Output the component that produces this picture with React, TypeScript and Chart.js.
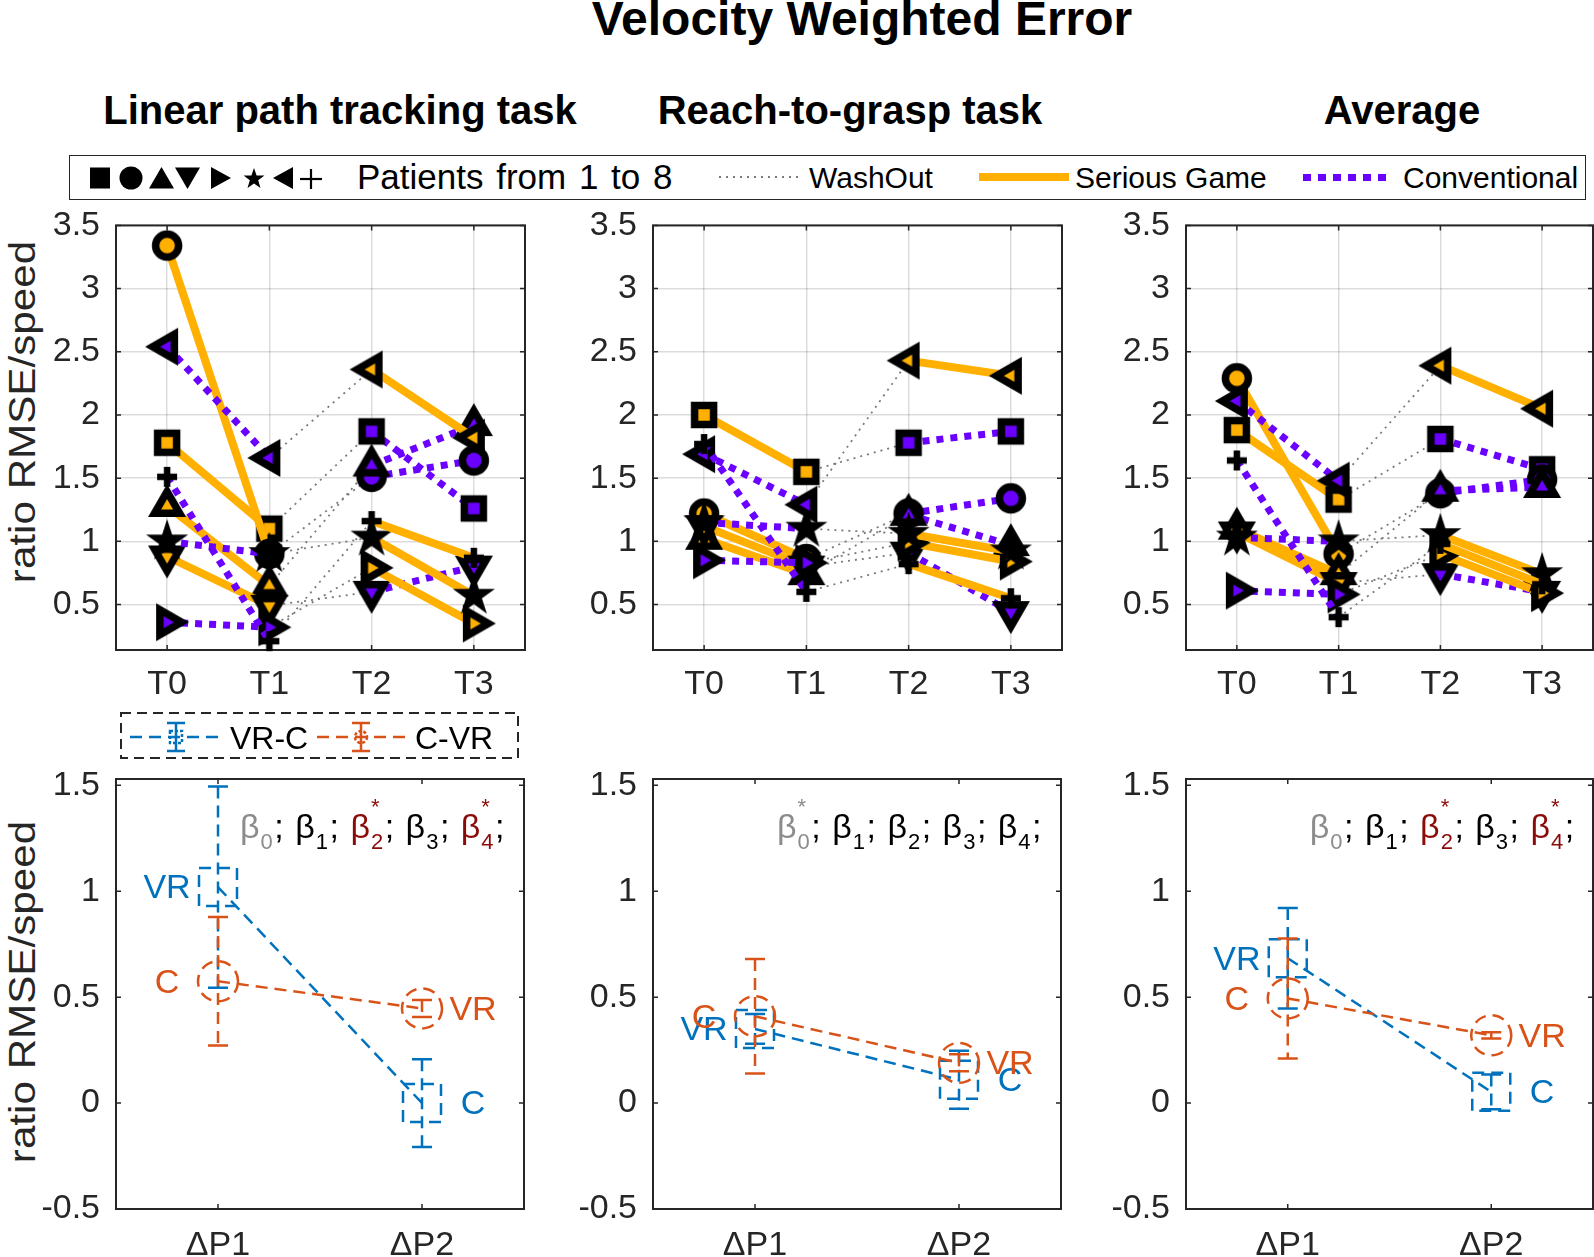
import React, { useEffect, useRef } from 'react';
import { Chart, registerables } from 'chart.js';

Chart.register(...registerables);

const FONT = '"Liberation Sans", Arial, Helvetica, sans-serif';

// ---------------- data: top row (ratio RMSE/speed per patient at T0..T3) ----------------
const timeLabels = ['T0', 'T1', 'T2', 'T3'];
const timePositions = [0, 1, 2, 3];
const topYTicks = [0.5, 1, 1.5, 2, 2.5, 3, 3.5];
const patientShapes = ['square', 'circle', 'triUp', 'triDown', 'triRight', 'star', 'triLeft', 'plus'];
const firstPeriod = ['SG', 'SG', 'SG', 'SG', 'CV', 'CV', 'CV', 'CV'];
const secondPeriod = ['CV', 'CV', 'CV', 'CV', 'SG', 'SG', 'SG', 'SG'];

const linearTask = [
  [1.78, 1.10, 1.87, 1.26],
  [3.34, 0.90, 1.51, 1.64],
  [1.28, 0.65, 1.60, 1.92],
  [0.88, 0.49, 0.60, 0.80],
  [0.36, 0.32, 0.79, 0.35],
  [1.00, 0.90, 1.03, 0.57],
  [2.54, 1.66, 2.36, 1.82],
  [1.51, 0.21, 1.16, 0.87],
];
const reachTask = [
  [2.00, 1.55, 1.78, 1.87],
  [1.22, 0.86, 1.22, 1.34],
  [1.02, 0.74, 1.21, 0.97],
  [1.12, 0.80, 0.91, 0.44],
  [0.85, 0.83, 0.99, 0.84],
  [1.15, 1.10, 1.06, 0.92],
  [1.69, 1.29, 2.43, 2.31],
  [1.77, 0.60, 0.82, 0.55],
];
const averageTask = [
  [1.88, 1.33, 1.81, 1.57],
  [2.29, 0.90, 1.38, 1.49],
  [1.10, 0.74, 1.40, 1.43],
  [1.07, 0.67, 0.74, 0.60],
  [0.61, 0.58, 0.90, 0.59],
  [1.03, 1.00, 1.05, 0.74],
  [2.11, 1.48, 2.39, 2.05],
  [1.64, 0.40, 0.98, 0.66],
];

// ---------------- data: bottom row (period differences) ----------------
const deltaLabels = ['ΔP1', 'ΔP2'];
const deltaPositions = [1, 2];
const bottomYTicks = [-0.5, 0, 0.5, 1, 1.5];
const linearVRC = [1.02, 0.0];
const linearVRCErr = [0.475, 0.207];
const linearCVR = [0.575, 0.447];
const linearCVRErr = [0.303, 0.04];
const reachVRC = [0.35, 0.11];
const reachVRCErr = [0.07, 0.137];
const reachCVR = [0.41, 0.19];
const reachCVRErr = [0.27, 0.04];
const averageVRC = [0.684, 0.053];
const averageVRCErr = [0.237, 0.082];
const averageCVR = [0.494, 0.32];
const averageCVRErr = [0.283, 0.015];
const vrcPointLabels = ['VR', 'C'];
const cvrPointLabels = ['C', 'VR'];
const betaStarsLinear = [false, false, true, false, true];
const betaStarsReach = [true, false, false, false, false];
const betaStarsAverage = [false, false, true, false, true];

// ---------------- styles ----------------
const ORANGE = '#FFB000';
const PURPLE = '#6A00FF';
const WASH = '#7a7a7a';
const BLUE = '#0072BD';
const RED = '#D95319';
const AXIS = '#262626';
const GRID = 'rgba(38,38,38,0.16)';
const BETA_GREY = '#8c8c8c';
const BETA_RED = '#8B0A0A';
const DASH = [12, 7];

const TOP_PLOTS = [{ l: 116, r: 525 }, { l: 653, r: 1062 }, { l: 1186, r: 1593 }];
const TOP_T = 219;
const TOP_B = 650;
const BOT_PLOTS = [{ l: 116, r: 524 }, { l: 653, r: 1061 }, { l: 1186, r: 1593 }];
const BOT_T = 779;
const BOT_B = 1209;

type Rect = { l: number; r: number; t: number; b: number };

// ---------------- marker images ----------------
function triPath(g: CanvasRenderingContext2D, R: number, angDeg: number) {
  for (let i = 0; i < 3; i++) {
    const a = ((angDeg + i * 120) * Math.PI) / 180;
    const x = R * Math.cos(a);
    const y = R * Math.sin(a);
    if (i === 0) g.moveTo(x, y);
    else g.lineTo(x, y);
  }
  g.closePath();
}

function markerImage(shape: string, fill: string): HTMLCanvasElement {
  const S = 64;
  const c = document.createElement('canvas');
  c.width = S;
  c.height = S;
  const g = c.getContext('2d')!;
  g.translate(S / 2, S / 2);
  g.lineWidth = 7.5;
  g.strokeStyle = '#000';
  g.fillStyle = fill;
  g.lineJoin = 'miter';
  g.miterLimit = 10;
  g.beginPath();
  if (shape === 'plus') {
    g.lineWidth = 6.5;
    g.moveTo(-10, 0);
    g.lineTo(10, 0);
    g.moveTo(0, -10);
    g.lineTo(0, 10);
    g.stroke();
    return c;
  }
  switch (shape) {
    case 'circle':
      g.arc(0, 0, 11.5, 0, Math.PI * 2);
      break;
    case 'square':
      g.rect(-9.5, -9.5, 19, 19);
      break;
    case 'triUp':
      triPath(g, 14.5, -90);
      break;
    case 'triDown':
      triPath(g, 14.5, 90);
      break;
    case 'triRight':
      triPath(g, 14.5, 0);
      break;
    case 'triLeft':
      triPath(g, 14.5, 180);
      break;
    case 'star': {
      const R = 10;
      const r = R * 0.382;
      for (let i = 0; i < 10; i++) {
        const a = ((-90 + i * 36) * Math.PI) / 180;
        const rr = i % 2 === 0 ? R : r;
        if (i === 0) g.moveTo(rr * Math.cos(a), rr * Math.sin(a));
        else g.lineTo(rr * Math.cos(a), rr * Math.sin(a));
      }
      g.closePath();
      break;
    }
  }
  g.fill();
  g.stroke();
  return c;
}

// ---------------- plugins ----------------
const framePlugin = {
  id: 'frame',
  beforeDatasetsDraw(chart: any) {
    const { ctx, chartArea: a, scales } = chart;
    ctx.save();
    ctx.strokeStyle = AXIS;
    ctx.lineWidth = 1.5;
    const L = 5;
    ctx.beginPath();
    scales.x.ticks.forEach((t: any) => {
      const px = scales.x.getPixelForValue(t.value);
      ctx.moveTo(px, a.bottom);
      ctx.lineTo(px, a.bottom - L);
      ctx.moveTo(px, a.top);
      ctx.lineTo(px, a.top + L);
    });
    scales.y.ticks.forEach((t: any) => {
      const py = scales.y.getPixelForValue(t.value);
      ctx.moveTo(a.left, py);
      ctx.lineTo(a.left + L, py);
      ctx.moveTo(a.right, py);
      ctx.lineTo(a.right - L, py);
    });
    ctx.stroke();
    ctx.lineWidth = 2;
    ctx.strokeRect(a.left, a.top, a.right - a.left, a.bottom - a.top);
    ctx.restore();
  },
};

function makeScale(
  axis: 'x' | 'y',
  min: number,
  max: number,
  tickValues: number[],
  labelFn: (v: number) => string,
  grid: boolean,
  sizePx: number,
  padding: number
) {
  return {
    type: 'linear',
    min,
    max,
    afterBuildTicks: (ax: any) => {
      ax.ticks = tickValues.map((v) => ({ value: v }));
    },
    afterFit: (ax: any) => {
      if (axis === 'x') ax.height = sizePx;
      else ax.width = sizePx;
    },
    ticks: {
      callback: (v: any) => labelFn(Number(v)),
      font: { family: FONT, size: 34 },
      color: AXIS,
      padding,
      autoSkip: false,
      maxRotation: 0,
      minRotation: 0,
      includeBounds: false,
    },
    grid: {
      display: grid,
      drawOnChartArea: grid,
      drawTicks: false,
      color: GRID,
      lineWidth: 1.5,
    },
    border: { display: false },
  };
}

function topConfig(values: number[][], plot: Rect, canvas: Rect) {
  const cache: Record<string, HTMLCanvasElement> = {};
  const img = (shape: string, color: string) => {
    const k = shape + color;
    if (!cache[k]) cache[k] = markerImage(shape, color);
    return cache[k];
  };
  const styleFor = (t: string) =>
    t === 'SG'
      ? { borderColor: ORANGE, borderWidth: 8, borderDash: [] as number[] }
      : { borderColor: PURPLE, borderWidth: 7, borderDash: [7, 7] };
  const colorFor = (t: string) => (t === 'SG' ? ORANGE : PURPLE);
  const datasets: any[] = [];
  let ord = 1000;
  values.forEach((v) => {
    datasets.push({
      data: [
        { x: timePositions[1], y: v[1] },
        { x: timePositions[2], y: v[2] },
      ],
      borderColor: WASH,
      borderWidth: 1.8,
      borderDash: [2, 5],
      pointRadius: 0,
      clip: false,
      order: ord--,
    });
  });
  values.forEach((v, p) => {
    const shape = patientShapes[p];
    [
      [0, 1, firstPeriod[p]],
      [2, 3, secondPeriod[p]],
    ].forEach(([i0, i1, t]: any) => {
      datasets.push({
        data: [
          { x: timePositions[i0], y: v[i0] },
          { x: timePositions[i1], y: v[i1] },
        ],
        ...styleFor(t),
        borderCapStyle: 'butt',
        pointStyle: img(shape, colorFor(t)),
        pointRadius: 10,
        pointHoverRadius: 10,
        clip: false,
        order: ord--,
      });
    });
  });
  return {
    type: 'line',
    data: { datasets },
    options: {
      responsive: false,
      animation: false,
      devicePixelRatio: 1,
      events: [],
      elements: { line: { tension: 0 } },
      layout: {
        autoPadding: false,
        padding: { left: 0, top: plot.t - canvas.t, right: canvas.r - plot.r, bottom: 0 },
      },
      plugins: { legend: { display: false }, tooltip: { enabled: false }, title: { display: false } },
      scales: {
        x: makeScale('x', -0.5, 3.5, timePositions, (v) => timeLabels[timePositions.indexOf(v)] ?? '', true, canvas.b - plot.b, 14),
        y: makeScale('y', 0.14, 3.5, topYTicks, (v) => String(v), true, plot.l - canvas.l, 16),
      },
    },
    plugins: [framePlugin],
  };
}

type Series = { mean: number[]; err: number[]; color: string; marker: string; labels: string[] };

function drawBeta(ctx: CanvasRenderingContext2D, x: number, y: number, stars: boolean[]) {
  let cx = x;
  ctx.textAlign = 'left';
  ctx.textBaseline = 'alphabetic';
  for (let i = 0; i < 5; i++) {
    const col = i === 0 ? BETA_GREY : stars[i] ? BETA_RED : '#000';
    ctx.fillStyle = col;
    ctx.font = `34px ${FONT}`;
    ctx.fillText('β', cx, y);
    cx += ctx.measureText('β').width + 1;
    ctx.font = `22px ${FONT}`;
    const d = String(i);
    const dw = ctx.measureText(d).width;
    ctx.fillText(d, cx, y + 11);
    if (stars[i]) ctx.fillText('*', cx, y - 24);
    cx += dw + 1.5;
    ctx.fillStyle = '#000';
    ctx.font = `34px ${FONT}`;
    ctx.fillText(';', cx, y);
    cx += ctx.measureText('; ').width + 2;
  }
}

function errorMarker(ctx: CanvasRenderingContext2D, marker: string, px: number, py: number, half: number) {
  if (marker === 'square') ctx.strokeRect(px - half, py - half, half * 2, half * 2);
  else {
    ctx.beginPath();
    ctx.arc(px, py, half, 0, Math.PI * 2);
    ctx.stroke();
  }
}

function bottomConfig(series: Series[], stars: boolean[], plot: Rect, canvas: Rect, withLegend: boolean) {
  const datasets = series.map((s, i) => ({
    data: deltaPositions.map((x, k) => ({ x, y: s.mean[k] })),
    borderColor: s.color,
    borderWidth: 2.5,
    borderDash: DASH,
    pointRadius: 0,
    clip: false,
    order: series.length - i,
  }));
  const errPlugin = {
    id: 'errbars',
    afterDatasetDraw(chart: any, args: any) {
      const s = series[args.index];
      if (!s) return;
      const { ctx } = chart;
      const xs = chart.scales.x;
      const ys = chart.scales.y;
      ctx.save();
      ctx.strokeStyle = s.color;
      ctx.lineWidth = 2.5;
      deltaPositions.forEach((xv, k) => {
        const px = xs.getPixelForValue(xv);
        const top = ys.getPixelForValue(s.mean[k] + s.err[k]);
        const bot = ys.getPixelForValue(s.mean[k] - s.err[k]);
        const cy = ys.getPixelForValue(s.mean[k]);
        ctx.setLineDash(DASH);
        ctx.beginPath();
        ctx.moveTo(px, top);
        ctx.lineTo(px, bot);
        ctx.stroke();
        ctx.setLineDash([]);
        ctx.beginPath();
        ctx.moveTo(px - 10, top);
        ctx.lineTo(px + 10, top);
        ctx.moveTo(px - 10, bot);
        ctx.lineTo(px + 10, bot);
        ctx.stroke();
        ctx.setLineDash(DASH);
        errorMarker(ctx, s.marker, px, cy, s.marker === 'square' ? 19 : 20);
      });
      ctx.restore();
    },
    afterDatasetsDraw(chart: any) {
      const { ctx } = chart;
      const xs = chart.scales.x;
      const ys = chart.scales.y;
      ctx.save();
      ctx.font = `34px ${FONT}`;
      ctx.textAlign = 'center';
      ctx.textBaseline = 'middle';
      series.forEach((s) => {
        ctx.fillStyle = s.color;
        deltaPositions.forEach((xv, k) => {
          const side = k === 0 ? -0.25 : 0.25;
          ctx.fillText(s.labels[k], xs.getPixelForValue(xv + side), ys.getPixelForValue(s.mean[k]) + 2);
        });
      });
      drawBeta(ctx, xs.getPixelForValue(1.108), ys.getPixelForValue(1.25), stars);
      ctx.restore();
    },
    afterDraw(chart: any) {
      if (!withLegend) return;
      const { ctx } = chart;
      const ox = canvas.l;
      const oy = canvas.t;
      ctx.save();
      ctx.strokeStyle = AXIS;
      ctx.lineWidth = 2;
      ctx.setLineDash([10, 6]);
      ctx.strokeRect(121 - ox, 713 - oy, 397, 45);
      const cy = 737 - oy;
      const entry = (color: string, marker: string, x1: number, x2: number, xm: number, text: string, tx: number) => {
        ctx.strokeStyle = color;
        ctx.lineWidth = 2.5;
        ctx.setLineDash(DASH);
        ctx.beginPath();
        ctx.moveTo(x1 - ox, cy);
        ctx.lineTo(x2 - ox, cy);
        ctx.stroke();
        ctx.setLineDash([]);
        ctx.beginPath();
        ctx.moveTo(xm - ox, cy - 14);
        ctx.lineTo(xm - ox, cy + 14);
        ctx.moveTo(xm - ox - 9, cy - 14);
        ctx.lineTo(xm - ox + 9, cy - 14);
        ctx.moveTo(xm - ox - 9, cy + 14);
        ctx.lineTo(xm - ox + 9, cy + 14);
        ctx.stroke();
        ctx.setLineDash([3, 2]);
        errorMarker(ctx, marker, xm - ox, cy, 6);
        ctx.fillStyle = '#000';
        ctx.font = `32px ${FONT}`;
        ctx.textAlign = 'left';
        ctx.textBaseline = 'alphabetic';
        ctx.fillText(text, tx - ox, 748.5 - oy);
      };
      entry(BLUE, 'square', 130, 220, 176, 'VR-C', 230);
      entry(RED, 'circle', 317, 407, 361, 'C-VR', 415);
      ctx.restore();
    },
  };
  return {
    type: 'line',
    data: { datasets },
    options: {
      responsive: false,
      animation: false,
      devicePixelRatio: 1,
      events: [],
      elements: { line: { tension: 0 } },
      layout: {
        autoPadding: false,
        padding: { left: 0, top: plot.t - canvas.t, right: canvas.r - plot.r, bottom: 0 },
      },
      plugins: { legend: { display: false }, tooltip: { enabled: false }, title: { display: false } },
      scales: {
        x: makeScale('x', 0.5, 2.5, deltaPositions, (v) => deltaLabels[deltaPositions.indexOf(v)] ?? '', false, canvas.b - plot.b, 16),
        y: makeScale('y', -0.5, 1.53, bottomYTicks, (v) => String(v), false, plot.l - canvas.l, 16),
      },
    },
    plugins: [framePlugin, errPlugin],
  };
}

// ---------------- components ----------------
function ChartBox({ canvas, makeConfig }: { canvas: Rect; makeConfig: () => any }) {
  const ref = useRef<HTMLCanvasElement>(null);
  useEffect(() => {
    const chart = new Chart(ref.current as HTMLCanvasElement, makeConfig());
    return () => chart.destroy();
  }, []);
  const w = canvas.r - canvas.l;
  const h = canvas.b - canvas.t;
  return (
    <div style={{ position: 'absolute', left: canvas.l, top: canvas.t, width: w, height: h }}>
      <canvas ref={ref} width={w} height={h} style={{ width: w, height: h, display: 'block' }} />
    </div>
  );
}

function Txt({
  x,
  y,
  size,
  bold,
  anchor = 'start',
  color = '#000',
  wordSpacing,
  children,
}: {
  x: number;
  y: number;
  size: number;
  bold?: boolean;
  anchor?: 'start' | 'middle';
  color?: string;
  wordSpacing?: number;
  children: React.ReactNode;
}) {
  return (
    <div
      style={{
        position: 'absolute',
        left: x,
        top: y - 0.8465 * size,
        fontSize: size,
        lineHeight: `${size}px`,
        fontWeight: bold ? 700 : 400,
        fontFamily: FONT,
        color,
        whiteSpace: 'nowrap',
        wordSpacing: wordSpacing,
        transform: anchor === 'middle' ? 'translateX(-50%)' : undefined,
      }}
    >
      {children}
    </div>
  );
}

function YLabel({ x, y, text }: { x: number; y: number; text: string }) {
  return (
    <div
      style={{
        position: 'absolute',
        left: x,
        top: y,
        fontSize: 37,
        lineHeight: '37px',
        fontFamily: FONT,
        color: AXIS,
        whiteSpace: 'nowrap',
        transform: 'translate(-50%, -50%) rotate(-90deg) scaleX(1.14)',
      }}
    >
      {text}
    </div>
  );
}

function LegendGlyphs() {
  const cy = 23;
  const star = (cx: number, R: number) => {
    const pts: string[] = [];
    for (let i = 0; i < 10; i++) {
      const a = ((-90 + i * 36) * Math.PI) / 180;
      const rr = i % 2 === 0 ? R : R * 0.4;
      pts.push(`${cx + rr * Math.cos(a)},${cy + 1 + rr * Math.sin(a)}`);
    }
    return pts.join(' ');
  };
  return (
    <svg style={{ position: 'absolute', left: 69, top: 155 }} width={300} height={45}>
      <rect x={21} y={12.5} width={20} height={21} fill="#000" />
      <ellipse cx={62} cy={cy} rx={11.5} ry={11.5} fill="#000" />
      <polygon points={`80,33.5 105,33.5 92.5,12`} fill="#000" />
      <polygon points={`106,12.5 131,12.5 118.5,34`} fill="#000" />
      <polygon points={`142,12 142,34 162,23`} fill="#000" />
      <polygon points={star(185, 11)} fill="#000" />
      <polygon points={`224,12 224,34 204,23`} fill="#000" />
      <line x1={231} y1={24} x2={253} y2={24} stroke="#000" strokeWidth={2.2} />
      <line x1={242} y1={14} x2={242} y2={34} stroke="#000" strokeWidth={2.2} />
    </svg>
  );
}

export default function App() {
  useEffect(() => {
    document.body.style.margin = '0';
    document.body.style.overflow = 'hidden';
  }, []);

  const topValues = [linearTask, reachTask, averageTask];
  const bottomSeries: Series[][] = [
    [
      { mean: linearVRC, err: linearVRCErr, color: BLUE, marker: 'square', labels: vrcPointLabels },
      { mean: linearCVR, err: linearCVRErr, color: RED, marker: 'circle', labels: cvrPointLabels },
    ],
    [
      { mean: reachVRC, err: reachVRCErr, color: BLUE, marker: 'square', labels: vrcPointLabels },
      { mean: reachCVR, err: reachCVRErr, color: RED, marker: 'circle', labels: cvrPointLabels },
    ],
    [
      { mean: averageVRC, err: averageVRCErr, color: BLUE, marker: 'square', labels: vrcPointLabels },
      { mean: averageCVR, err: averageCVRErr, color: RED, marker: 'circle', labels: cvrPointLabels },
    ],
  ];
  const betaStars = [betaStarsLinear, betaStarsReach, betaStarsAverage];

  return (
    <div
      style={{
        position: 'absolute',
        left: 0,
        top: 0,
        width: 1594,
        height: 1257,
        overflow: 'hidden',
        background: '#fff',
        fontFamily: FONT,
      }}
    >
      <Txt x={862} y={36} size={48} bold anchor="middle">
        Velocity Weighted Error
      </Txt>
      <Txt x={340} y={124} size={40} bold anchor="middle">
        Linear path tracking task
      </Txt>
      <Txt x={850} y={124} size={40} bold anchor="middle">
        Reach-to-grasp task
      </Txt>
      <Txt x={1402} y={124} size={40} bold anchor="middle">
        Average
      </Txt>

      <div
        style={{
          position: 'absolute',
          left: 69,
          top: 155,
          width: 1517,
          height: 45,
          border: `1.5px solid ${AXIS}`,
          boxSizing: 'border-box',
          background: '#fff',
        }}
      />
      <LegendGlyphs />
      <Txt x={357} y={189} size={35} wordSpacing={3}>
        Patients from 1 to 8
      </Txt>
      <div
        style={{
          position: 'absolute',
          left: 719,
          top: 176,
          width: 84,
          height: 2,
          background: `repeating-linear-gradient(to right, ${WASH} 0 2px, transparent 2px 7px)`,
        }}
      />
      <Txt x={809} y={188} size={30}>
        WashOut
      </Txt>
      <div style={{ position: 'absolute', left: 979, top: 173, width: 90, height: 8, background: ORANGE }} />
      <Txt x={1075} y={188} size={30}>
        Serious Game
      </Txt>
      <div
        style={{
          position: 'absolute',
          left: 1303,
          top: 174,
          width: 90,
          height: 7,
          background: `repeating-linear-gradient(to right, ${PURPLE} 0 8px, transparent 8px 15px)`,
        }}
      />
      <Txt x={1403} y={188} size={30}>
        Conventional
      </Txt>

      <YLabel x={22} y={412} text="ratio RMSE/speed" />
      <YLabel x={22} y={992} text="ratio RMSE/speed" />

      {TOP_PLOTS.map((p, i) => {
        const plot = { l: p.l, r: p.r, t: TOP_T, b: TOP_B };
        const canvas = { l: p.l - 110, r: p.r + 10, t: TOP_T - 30, b: 705 };
        return <ChartBox key={'t' + i} canvas={canvas} makeConfig={() => topConfig(topValues[i], plot, canvas)} />;
      })}
      {BOT_PLOTS.map((p, i) => {
        const plot = { l: p.l, r: p.r, t: BOT_T, b: BOT_B };
        const canvas = { l: p.l - 110, r: p.r + 10, t: 705, b: 1257 };
        return (
          <ChartBox
            key={'b' + i}
            canvas={canvas}
            makeConfig={() => bottomConfig(bottomSeries[i], betaStars[i], plot, canvas, i === 0)}
          />
        );
      })}
    </div>
  );
}
